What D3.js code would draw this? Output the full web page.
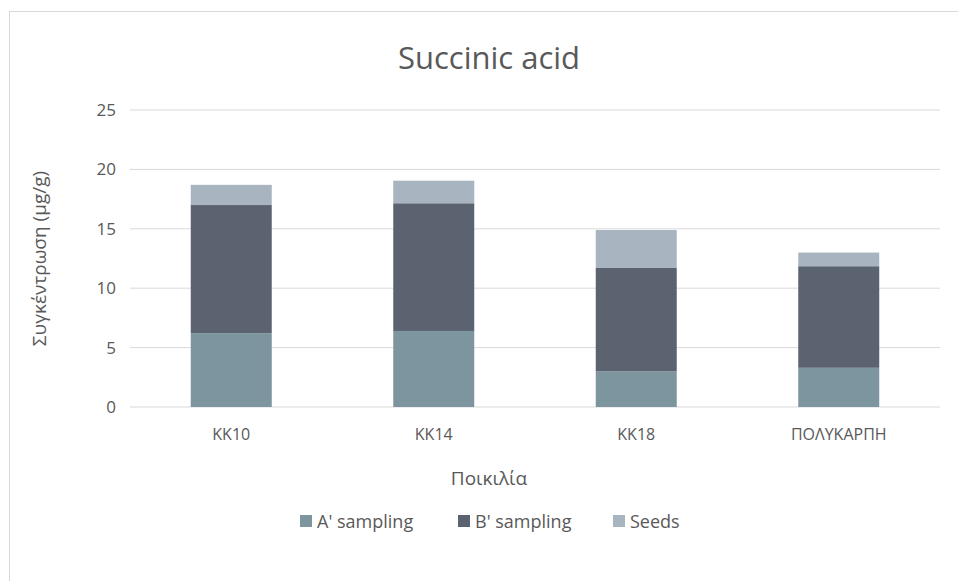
<!DOCTYPE html>
<html>
<head>
<meta charset="utf-8">
<script src="https://cdn.jsdelivr.net/npm/d3@7"></script>
<style>
  body { margin: 0; background: #fff; }
  svg text { font-family: "Open Sans", "Noto Sans", sans-serif; fill: #595959; }
</style>
</head>
<body>
<div id="chart"></div>
<script>
// data
const categories = ["KK10", "KK14", "KK18", "ΠΟΛΥΚΑΡΠΗ"];
const seriesNames = ["A' sampling", "B' sampling", "Seeds"];
const aSampling = [6.2, 6.4, 3.0, 3.3];
const bSampling = [10.8, 10.75, 8.7, 8.55];
const seeds = [1.7, 1.9, 3.2, 1.15];
const yTicks = [0, 5, 10, 15, 20, 25];
const colours = ["#7d959e", "#5c6370", "#a9b4c1"];

const WD = 958, HT = 581;
const margin = { left: 130, right: 18, top: 110, bottom: 174 };
const width = WD - margin.left - margin.right;
const height = HT - margin.top - margin.bottom;

const svg = d3.select("#chart").append("svg")
    .attr("width", WD)
    .attr("height", HT);

// chart frame
svg.append("rect")
    .attr("x", 9.5).attr("y", 11.5)
    .attr("width", WD + 10).attr("height", HT + 10)
    .attr("fill", "none")
    .attr("stroke", "#d9d9d9");

const g = svg.append("g").attr("transform", "translate(" + margin.left + "," + margin.top + ")");

const xs = d3.scaleBand().domain(categories).range([0, width]).paddingInner(0.6).paddingOuter(0.3);
const ys = d3.scaleLinear().domain([0, 25]).range([height, 0]);

// gridlines
g.selectAll(".grid")
  .data(yTicks)
  .enter().append("line")
    .attr("x1", 0).attr("x2", width)
    .attr("y1", d => ys(d)).attr("y2", d => ys(d))
    .attr("stroke", "#d9d9d9")
    .attr("stroke-width", 1);

// stacked bars
const rows = categories.map((c, i) => ({ cat: c, a: aSampling[i], b: bSampling[i], s: seeds[i] }));
const stack = d3.stack().keys(["a", "b", "s"])(rows);

g.selectAll(".layer")
  .data(stack)
  .enter().append("g")
    .attr("fill", (d, i) => colours[i])
  .selectAll("rect")
  .data(d => d)
  .enter().append("rect")
    .attr("x", d => xs(d.data.cat))
    .attr("width", xs.bandwidth())
    .attr("y", d => ys(d[1]))
    .attr("height", d => ys(d[0]) - ys(d[1]));

// y tick labels
const yAxis = g.append("g").call(d3.axisLeft(ys).tickValues(yTicks).tickSize(0).tickPadding(14));
yAxis.select(".domain").remove();
yAxis.selectAll("text").attr("font-size", "17px").attr("fill", "#595959")
    .style("font-family", "'Open Sans', sans-serif");

// x tick labels
const xAxis = g.append("g").attr("transform", "translate(0," + height + ")")
    .call(d3.axisBottom(xs).tickSize(0).tickPadding(22));
xAxis.select(".domain").remove();
xAxis.selectAll("text").attr("font-size", "16px").attr("fill", "#595959")
    .style("font-family", "'Open Sans', sans-serif");

// title
svg.append("text")
    .attr("x", margin.left + width / 2 - 46)
    .attr("y", 69)
    .attr("text-anchor", "middle")
    .attr("font-size", "31px")
    .text("Succinic acid");

// axis titles
svg.append("text")
    .attr("x", margin.left + width / 2 - 46)
    .attr("y", 485)
    .attr("text-anchor", "middle")
    .attr("font-size", "19px")
    .text("Ποικιλία");

svg.append("text")
    .attr("transform", "translate(46," + (margin.top + height / 2) + ") rotate(-90)")
    .attr("text-anchor", "middle")
    .attr("font-size", "19px")
    .text("Συγκέντρωση (μg/g)");

// legend
const legend = svg.append("g").attr("transform", "translate(300,521)");
const legendX = [0, 158, 313];
seriesNames.forEach((name, i) => {
  const item = legend.append("g").attr("transform", "translate(" + legendX[i] + ",0)");
  item.append("rect")
      .attr("x", 0).attr("y", -6)
      .attr("width", 12).attr("height", 12)
      .attr("fill", colours[i]);
  item.append("text")
      .attr("x", 17).attr("y", 6.5)
      .attr("font-size", "18px")
      .text(name);
});
</script>
</body>
</html>
